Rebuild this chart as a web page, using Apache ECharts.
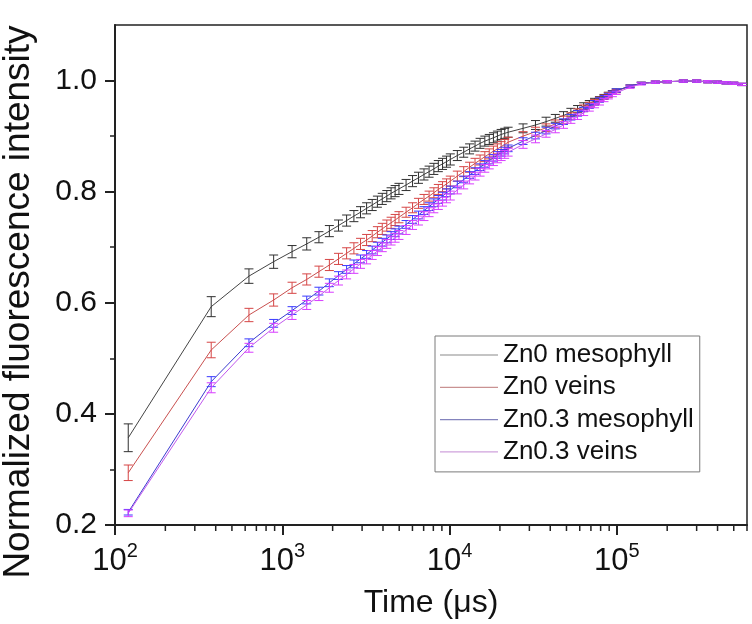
<!DOCTYPE html>
<html><head><meta charset="utf-8">
<script src="https://cdn.jsdelivr.net/npm/echarts@6/dist/echarts.min.js"></script>
<style>html,body{margin:0;padding:0;background:#fff}#c{width:752px;height:624px}</style>
</head><body><div id="c"></div>
<script>
// Time points (µs)
const times = [120, 376, 632, 888, 1144, 1400, 1656, 1912, 2168, 2424, 2680, 2936, 3192, 3448, 3704, 3960, 4216, 4472, 4728, 4984,
  5496, 6008, 6520, 7032, 7544, 8056, 8568, 9080, 9592, 10104, 11128, 12152, 13176, 14200, 15224, 16248, 17272, 18296, 19320, 20344, 21368, 22392,
  27512, 32632, 37752, 42872, 47992, 53112, 58232, 63352, 68472, 73592, 78712, 83832, 88952, 94072, 99192,
  120000, 140000, 170000, 200000, 250000, 300000, 350000, 400000, 450000, 500000, 560000];

const zn0Meso = [0.357, 0.593, 0.648, 0.674, 0.692, 0.706, 0.718, 0.729, 0.739, 0.748, 0.756, 0.763, 0.770, 0.776, 0.782, 0.787, 0.792, 0.797, 0.801, 0.805,
  0.812, 0.819, 0.825, 0.831, 0.836, 0.841, 0.846, 0.850, 0.854, 0.858, 0.865, 0.871, 0.877, 0.882, 0.887, 0.891, 0.894, 0.897, 0.900, 0.903, 0.905, 0.907,
  0.914, 0.920, 0.926, 0.932, 0.937, 0.943, 0.949, 0.954, 0.959, 0.963, 0.967, 0.971, 0.975, 0.979, 0.982,
  0.990, 0.995, 0.997, 0.998, 0.999, 0.999, 0.998, 0.997, 0.996, 0.995, 0.993];
const zn0MesoErr = [0.025, 0.018, 0.013, 0.012, 0.011, 0.011, 0.010, 0.010, 0.010, 0.010, 0.010, 0.010, 0.010, 0.010, 0.010, 0.010, 0.010, 0.010, 0.010, 0.010,
  0.010, 0.010, 0.010, 0.010, 0.010, 0.010, 0.010, 0.010, 0.010, 0.010, 0.009, 0.009, 0.009, 0.009, 0.009, 0.009, 0.009, 0.009, 0.009, 0.009, 0.009, 0.009,
  0.008, 0.008, 0.008, 0.007, 0.007, 0.007, 0.006, 0.006, 0.005, 0.005, 0.004, 0.004, 0.004, 0.003, 0.003,
  0.002, 0.002, 0.002, 0.002, 0.002, 0.002, 0.002, 0.002, 0.002, 0.002, 0.002];

const zn0Veins = [0.294, 0.515, 0.578, 0.605, 0.627, 0.642, 0.656, 0.668, 0.679, 0.689, 0.698, 0.706, 0.713, 0.720, 0.727, 0.733, 0.739, 0.744, 0.749, 0.754,
  0.763, 0.771, 0.779, 0.786, 0.792, 0.798, 0.804, 0.809, 0.814, 0.819, 0.828, 0.836, 0.844, 0.851, 0.857, 0.863, 0.868, 0.873, 0.877, 0.881, 0.885, 0.889,
  0.900, 0.908, 0.915, 0.922, 0.929, 0.936, 0.943, 0.950, 0.956, 0.961, 0.966, 0.970, 0.974, 0.978, 0.981,
  0.990, 0.995, 0.997, 0.998, 0.999, 0.999, 0.998, 0.997, 0.996, 0.995, 0.993];
const zn0VeinsErr = [0.014, 0.014, 0.012, 0.011, 0.010, 0.010, 0.010, 0.010, 0.010, 0.010, 0.010, 0.010, 0.010, 0.010, 0.010, 0.010, 0.010, 0.010, 0.010, 0.010,
  0.009, 0.009, 0.009, 0.009, 0.009, 0.009, 0.009, 0.009, 0.009, 0.009, 0.009, 0.009, 0.009, 0.009, 0.009, 0.009, 0.009, 0.009, 0.009, 0.009, 0.009, 0.009,
  0.008, 0.008, 0.007, 0.007, 0.007, 0.006, 0.006, 0.006, 0.005, 0.005, 0.004, 0.004, 0.004, 0.003, 0.003,
  0.002, 0.002, 0.002, 0.002, 0.002, 0.002, 0.002, 0.002, 0.002, 0.002, 0.002];

const zn03Meso = [0.223, 0.458, 0.528, 0.563, 0.586, 0.605, 0.621, 0.636, 0.649, 0.660, 0.670, 0.679, 0.687, 0.695, 0.702, 0.709, 0.715, 0.721, 0.726, 0.731,
  0.741, 0.750, 0.758, 0.766, 0.773, 0.780, 0.786, 0.792, 0.798, 0.803, 0.813, 0.822, 0.830, 0.837, 0.844, 0.850, 0.856, 0.861, 0.866, 0.870, 0.874, 0.878,
  0.891, 0.901, 0.910, 0.918, 0.926, 0.934, 0.941, 0.948, 0.954, 0.960, 0.965, 0.970, 0.974, 0.978, 0.982,
  0.990, 0.995, 0.997, 0.998, 0.999, 0.999, 0.998, 0.997, 0.996, 0.995, 0.993];
const zn03MesoErr = [0.005, 0.009, 0.007, 0.007, 0.007, 0.007, 0.007, 0.007, 0.007, 0.007, 0.007, 0.007, 0.007, 0.007, 0.007, 0.007, 0.007, 0.007, 0.007, 0.007,
  0.007, 0.007, 0.007, 0.007, 0.007, 0.007, 0.007, 0.007, 0.007, 0.007, 0.006, 0.006, 0.006, 0.006, 0.006, 0.006, 0.006, 0.006, 0.006, 0.006, 0.006, 0.006,
  0.006, 0.006, 0.006, 0.005, 0.005, 0.005, 0.005, 0.004, 0.004, 0.004, 0.004, 0.003, 0.003, 0.003, 0.003,
  0.002, 0.002, 0.002, 0.002, 0.002, 0.002, 0.002, 0.002, 0.002, 0.002, 0.002];

const zn03Veins = [0.221, 0.447, 0.519, 0.555, 0.578, 0.596, 0.612, 0.627, 0.640, 0.651, 0.661, 0.670, 0.678, 0.686, 0.693, 0.700, 0.706, 0.712, 0.717, 0.722,
  0.731, 0.740, 0.748, 0.756, 0.763, 0.770, 0.776, 0.782, 0.788, 0.793, 0.803, 0.812, 0.821, 0.828, 0.835, 0.842, 0.848, 0.854, 0.859, 0.863, 0.867, 0.871,
  0.885, 0.895, 0.904, 0.912, 0.920, 0.928, 0.935, 0.942, 0.949, 0.955, 0.960, 0.965, 0.970, 0.974, 0.978,
  0.988, 0.994, 0.997, 0.998, 0.999, 0.999, 0.998, 0.997, 0.996, 0.995, 0.993];
const zn03VeinsErr = [0.006, 0.009, 0.008, 0.008, 0.008, 0.008, 0.008, 0.008, 0.008, 0.008, 0.008, 0.008, 0.008, 0.008, 0.008, 0.008, 0.008, 0.008, 0.008, 0.008,
  0.008, 0.008, 0.008, 0.008, 0.008, 0.008, 0.008, 0.008, 0.008, 0.008, 0.007, 0.007, 0.007, 0.007, 0.007, 0.007, 0.007, 0.007, 0.007, 0.007, 0.007, 0.007,
  0.007, 0.007, 0.006, 0.006, 0.006, 0.005, 0.005, 0.005, 0.004, 0.004, 0.004, 0.003, 0.003, 0.003, 0.003,
  0.002, 0.002, 0.002, 0.002, 0.002, 0.002, 0.002, 0.002, 0.002, 0.002, 0.002];

const seriesNames = ['Zn0 mesophyll', 'Zn0 veins', 'Zn0.3 mesophyll', 'Zn0.3 veins'];
const yTickValues = [0.2, 0.4, 0.6, 0.8, 1.0];
const yMinorTickValues = [0.3, 0.5, 0.7, 0.9];
const xMinorTickValues = [200, 300, 400, 500, 600, 700, 800, 900,
  2000, 3000, 4000, 5000, 6000, 7000, 8000, 9000,
  20000, 30000, 40000, 50000, 60000, 70000, 80000, 90000,
  200000, 300000, 400000, 500000, 600000];
const xTitle = 'Time (\u03bcs)';
const yTitle = 'Normalized fluorescence intensity';

const FONT = 'Liberation Sans';
const lineColors = ['#444444', '#c9504f', '#3b3bd0', '#c158ee'];
const barColors = ['#303030', '#d64545', '#3a3aff', '#d83cff'];
const legendColors = ['#8a8a8a', '#c99292', '#8484bd', '#cfa2dc'];
const values = [zn0Meso, zn0Veins, zn03Meso, zn03Veins];
const errs = [zn0MesoErr, zn0VeinsErr, zn03MesoErr, zn03VeinsErr];

function errRender(color) {
  return function (params, api) {
    const x = api.value(0), lo = api.value(1), hi = api.value(2);
    const p1 = api.coord([x, lo]), p2 = api.coord([x, hi]);
    const hw = 4.5;
    const st = { stroke: color, lineWidth: 1, fill: null };
    return { type: 'group', children: [
      { type: 'line', shape: { x1: p1[0], y1: p1[1], x2: p2[0], y2: p2[1] }, style: st },
      { type: 'line', shape: { x1: p1[0] - hw, y1: p1[1], x2: p1[0] + hw, y2: p1[1] }, style: st },
      { type: 'line', shape: { x1: p2[0] - hw, y1: p2[1], x2: p2[0] + hw, y2: p2[1] }, style: st }
    ] };
  };
}

const series = [];
values.forEach((vals, i) => {
  series.push({
    type: 'line', name: seriesNames[i], xAxisIndex: 0, yAxisIndex: 0,
    data: times.map((t, k) => [t, vals[k]]),
    symbol: 'none', showSymbol: false, smooth: false, silent: true,
    lineStyle: { color: lineColors[i], width: 1 }, itemStyle: { color: lineColors[i] },
    z: 2 + i * 2
  });
  series.push({
    type: 'custom', name: 'err' + i, xAxisIndex: 0, yAxisIndex: 0, silent: true,
    data: times.map((t, k) => [t, vals[k] - errs[i][k], vals[k] + errs[i][k]]),
    encode: { x: 0, y: [1, 2] },
    renderItem: errRender(barColors[i]),
    z: 3 + i * 2
  });
});
// x minor ticks placed through the log axis
series.push({
  type: 'custom', name: 'xminor', silent: true, clip: false,
  data: xMinorTickValues.map(v => [v, 0.2]),
  encode: { x: 0, y: 1 },
  renderItem: function (params, api) {
    const p = api.coord([api.value(0), 0.2]);
    return { type: 'line', shape: { x1: p[0], y1: p[1], x2: p[0], y2: p[1] + 6 }, style: { stroke: '#222', lineWidth: 1.5 } };
  },
  z: 20
});

const chart = echarts.init(document.getElementById('c'), null, { renderer: 'canvas' });
chart.setOption({
  animation: false,
  backgroundColor: '#ffffff',
  textStyle: { fontFamily: FONT, color: '#111' },
  grid: { left: 115, right: 5, top: 25, bottom: 99, containLabel: false, outerBoundsMode: 'none',
    show: true, borderColor: '#222', borderWidth: 1.5, backgroundColor: 'transparent' },
  legend: {
    orient: 'vertical', left: 435, top: 336,
    padding: [5, 6, 6, 5], itemGap: 4.3, itemWidth: 58, itemHeight: 1.2,
    icon: 'rect',
    borderColor: '#7a7a7a', borderWidth: 1, backgroundColor: '#ffffff',
    textStyle: { fontFamily: FONT, fontSize: 26, color: '#111', lineHeight: 28 },
    data: seriesNames.map((n, i) => ({ name: n, icon: 'rect', itemStyle: { color: legendColors[i], borderWidth: 0 } })),
    selectedMode: false
  },
  xAxis: [{
    type: 'log', logBase: 10, min: 100, max: 600000,
    name: xTitle, nameLocation: 'middle', nameGap: 62,
    nameTextStyle: { fontFamily: FONT, fontSize: 32, color: '#111' },
    axisLine: { show: true, onZero: false, lineStyle: { color: '#222', width: 2 } },
    axisTick: { show: true, inside: false, length: 10, lineStyle: { color: '#222', width: 2 } },
    minorTick: { show: false },
    splitLine: { show: false }, minorSplitLine: { show: false },
    axisLabel: {
      margin: 16, showMaxLabel: false,
      formatter: function (v) {
        const e = Math.log10(v), r = Math.round(e);
        if (Math.abs(e - r) > 1e-6) return '';
        return '{b|10}{s|' + r + '}';
      },
      rich: {
        b: { fontFamily: FONT, fontSize: 31, color: '#111', lineHeight: 36, verticalAlign: 'bottom' },
        s: { fontFamily: FONT, fontSize: 20, color: '#111', lineHeight: 18, verticalAlign: 'top' }
      }
    }
  }],
  yAxis: [{
    type: 'value', min: 0.2, max: 1.1,
    name: yTitle, nameLocation: 'middle', nameGap: 78, nameRotate: 90,
    nameTextStyle: { fontFamily: FONT, fontSize: 37, color: '#111', padding: [0, 54, 0, 0] },
    axisLine: { show: true, onZero: false, lineStyle: { color: '#222', width: 2 } },
    axisTick: { show: true, inside: false, length: 10, customValues: yTickValues, lineStyle: { color: '#222', width: 2 } },
    axisLabel: { margin: 18, fontFamily: FONT, fontSize: 30, color: '#111', customValues: yTickValues, formatter: v => v.toFixed(1) },
    splitLine: { show: false }
  }, {
    type: 'value', min: 0.2, max: 1.1, position: 'left',
    axisLine: { show: false },
    axisTick: { show: true, inside: false, length: 5, customValues: yMinorTickValues, lineStyle: { color: '#222', width: 1.5 } },
    axisLabel: { show: false },
    splitLine: { show: false }
  }],
  series: series
});
</script>
</body></html>
